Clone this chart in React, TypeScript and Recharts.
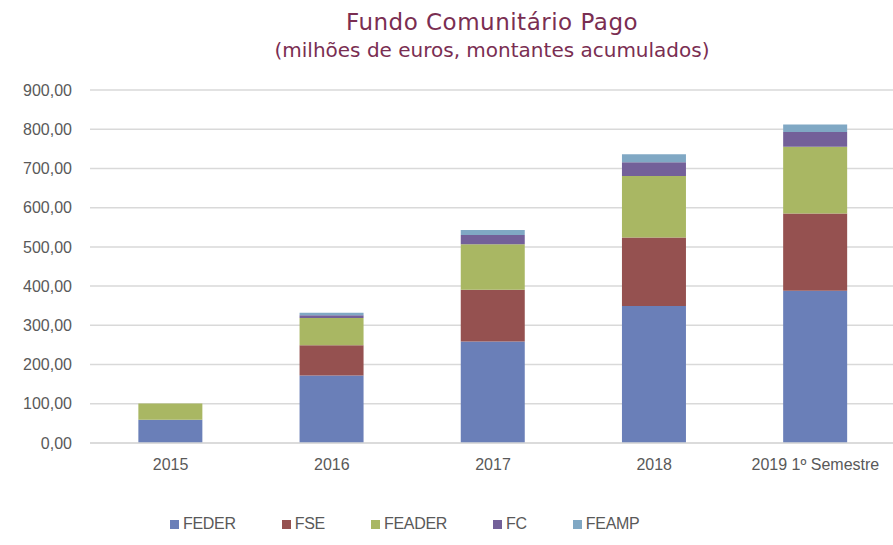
import React from "react";
import { BarChart, Bar, XAxis, YAxis, CartesianGrid, Legend } from "recharts";

const categories = ["2015", "2016", "2017", "2018", "2019 1º Semestre"];
const feder = [59, 172, 259, 349, 388];
const fse = [0, 77, 132, 175, 197];
const feader = [42, 70, 116, 157, 170];
const fc = [0, 7, 23, 35, 38];
const feamp = [0, 6, 13, 20, 19];
const yTicks = [0, 100, 200, 300, 400, 500, 600, 700, 800, 900];

const series = [
  { key: "FEDER", color: "#6a7fb8" },
  { key: "FSE", color: "#955150" },
  { key: "FEADER", color: "#a9b763" },
  { key: "FC", color: "#736099" },
  { key: "FEAMP", color: "#80a8c4" },
];

const data = categories.map((name, i) => ({
  name,
  FEDER: feder[i],
  FSE: fse[i],
  FEADER: feader[i],
  FC: fc[i],
  FEAMP: feamp[i],
}));

const narrow = '"Liberation Sans Narrow", "Arial Narrow", "Liberation Sans", sans-serif';
const fmt = (v: number) => v.toFixed(2).replace(".", ",");

const LegendBox = () => (
  <div style={{ display: "flex", gap: 46, fontFamily: narrow, fontSize: 16, color: "#595959", letterSpacing: -0.3 }}>
    {series.map((s) => (
      <div key={s.key} style={{ display: "flex", alignItems: "center", gap: 4 }}>
        <span style={{ width: 9, height: 9, background: s.color, display: "inline-block" }} />
        <span>{s.key}</span>
      </div>
    ))}
  </div>
);

export default function App() {
  return (
    <div style={{ position: "absolute", left: 0, top: 0, width: 893, height: 545, overflow: "hidden", background: "#fff" }}>
      <div style={{ position: "absolute", top: 8, left: 0, width: 984, textAlign: "center", color: "#7a2e52", fontFamily: '"DejaVu Sans", sans-serif', lineHeight: "28px" }}>
        <div style={{ fontSize: 23, letterSpacing: 0.5 }}>Fundo Comunitário Pago</div>
        <div style={{ fontSize: 20 }}>(milhões de euros, montantes acumulados)</div>
      </div>
      <BarChart width={896} height={545} data={data} margin={{ top: 90, right: 0, bottom: 54, left: 0 }} barCategoryGap="30%">
        <CartesianGrid vertical={false} stroke="#d9d9d9" strokeWidth={1.5} />
        <XAxis
          dataKey="name"
          axisLine={{ stroke: "#d9d9d9", strokeWidth: 1.5 }}
          tickLine={false}
          tickMargin={10}
          height={30}
          tick={{ fontFamily: narrow, fontSize: 16, fill: "#595959" }}
        />
        <YAxis
          domain={[0, 900]}
          ticks={yTicks}
          tickFormatter={fmt}
          axisLine={false}
          tickLine={false}
          tickSize={0}
          tickMargin={18}
          width={90}
          tick={{ fontFamily: narrow, fontSize: 16, fill: "#595959" }}
        />
        <Legend verticalAlign="bottom" content={<LegendBox />} wrapperStyle={{ left: 170, bottom: 12, width: "auto" }} />
        {series.map((s) => (
          <Bar key={s.key} dataKey={s.key} stackId="a" fill={s.color} isAnimationActive={false} />
        ))}
      </BarChart>
    </div>
  );
}
